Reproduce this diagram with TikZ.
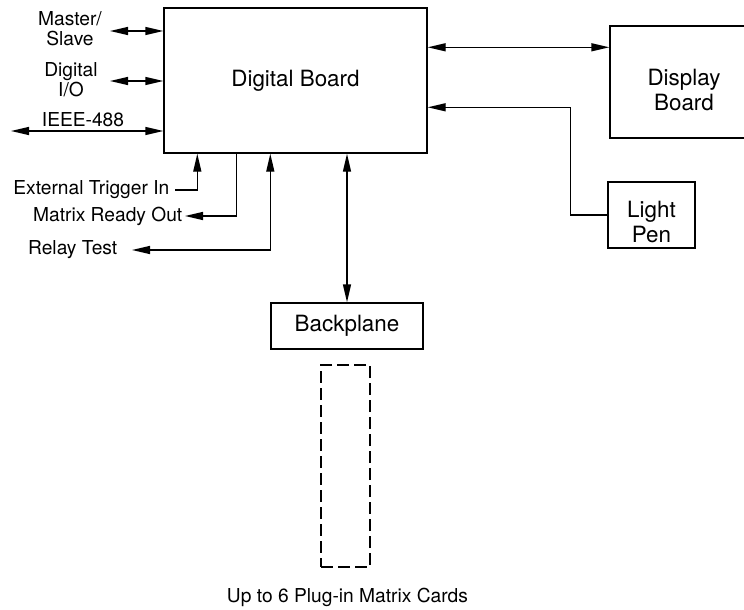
\documentclass[tikz,border=0pt]{standalone}
\usepackage{fontspec}
\setmainfont{TeX Gyre Heros}
\usetikzlibrary{positioning,arrows.meta,calc}
\newcommand{\lblfont}{\fontsize{9.6}{10}\selectfont}
\newcommand{\boxfont}{\fontsize{11.2}{12.5}\selectfont}

\begin{document}
\begin{tikzpicture}[x=0.5pt, y=-0.5pt, line width=0.7pt,
    >={Triangle[length=9pt,width=4pt]},
    blk/.style={draw, inner sep=0, font=\boxfont, align=center},
    lbl/.style={font=\lblfont, inner sep=1pt, align=center}]
    \useasboundingbox (0,0) rectangle (744,610);
    \clip (0,0) rectangle (744,610);
    \node[blk, minimum width=131.5pt, minimum height=72.5pt] (board) at (295.5,80.5) {Digital Board};
    \node[blk, minimum width=74pt, minimum height=56pt] (display) at (684,82) {};
    \node[font=\boxfont, align=center] (displaytxt) at (684,90) {Display\\Board};
    \node[blk, minimum width=43.5pt, minimum height=33pt] (pen) at (651.5,215) {};
    \node[font=\boxfont, align=center] (pentxt) at (651.5,222) {Light\\Pen};
    \node[blk, minimum width=76pt, minimum height=23pt] (backplane) at (347,326) {Backplane};
    \node[draw, dash pattern=on 6pt off 2.5pt, inner sep=0, minimum width=24.5pt, minimum height=101pt] (cards) at (345.5,466) {};
    \node[lbl] (cardstxt) at (347.5,597) {Up to 6 Plug-in Matrix Cards};

    % ports on the left
    \node[lbl] (mstxt) at (70,29) {Master/\\Slave};
    \node[lbl] (diotxt) at (71,80) {Digital\\I/O};
    \node[lbl] (ieeetxt) at (83,120) {IEEE-488};
    \coordinate (ms) at (110,31);
    \coordinate (dio) at (110,81);
    \coordinate (ieee) at (11,131);
    \foreach \p in {ms,dio,ieee}
      \draw[<->] (\p) -- (\p -| board.west);

    % signals below the board
    \node[lbl, anchor=east, inner sep=2.5pt] (trig) at (175,190) {External Trigger In};
    \node[lbl, anchor=east] (ready) at (185,216) {Matrix Ready Out};
    \node[lbl, anchor=east] (relay) at (120,250) {Relay Test};
    \draw[->] (trig.east) -| ($(board.south west)+(34,0)$);
    \draw[->] ($(board.south west)+(73,0)$) |- (ready.east);
    \draw[<->] ([xshift=6pt]relay.east) -| ($(board.south west)+(107,0)$);
    \draw[<->] (backplane.north) -- (backplane.north |- board.south);

    % right side
    \coordinate (dsp) at ($(board.north east)+(0,40)$);
    \draw[<->] (dsp) -- (dsp -| display.west);
    \draw[->] (pen.west) -- ++(-37,0) |- ($(board.north east)+(0,100)$);
  \end{tikzpicture}
\end{document}
